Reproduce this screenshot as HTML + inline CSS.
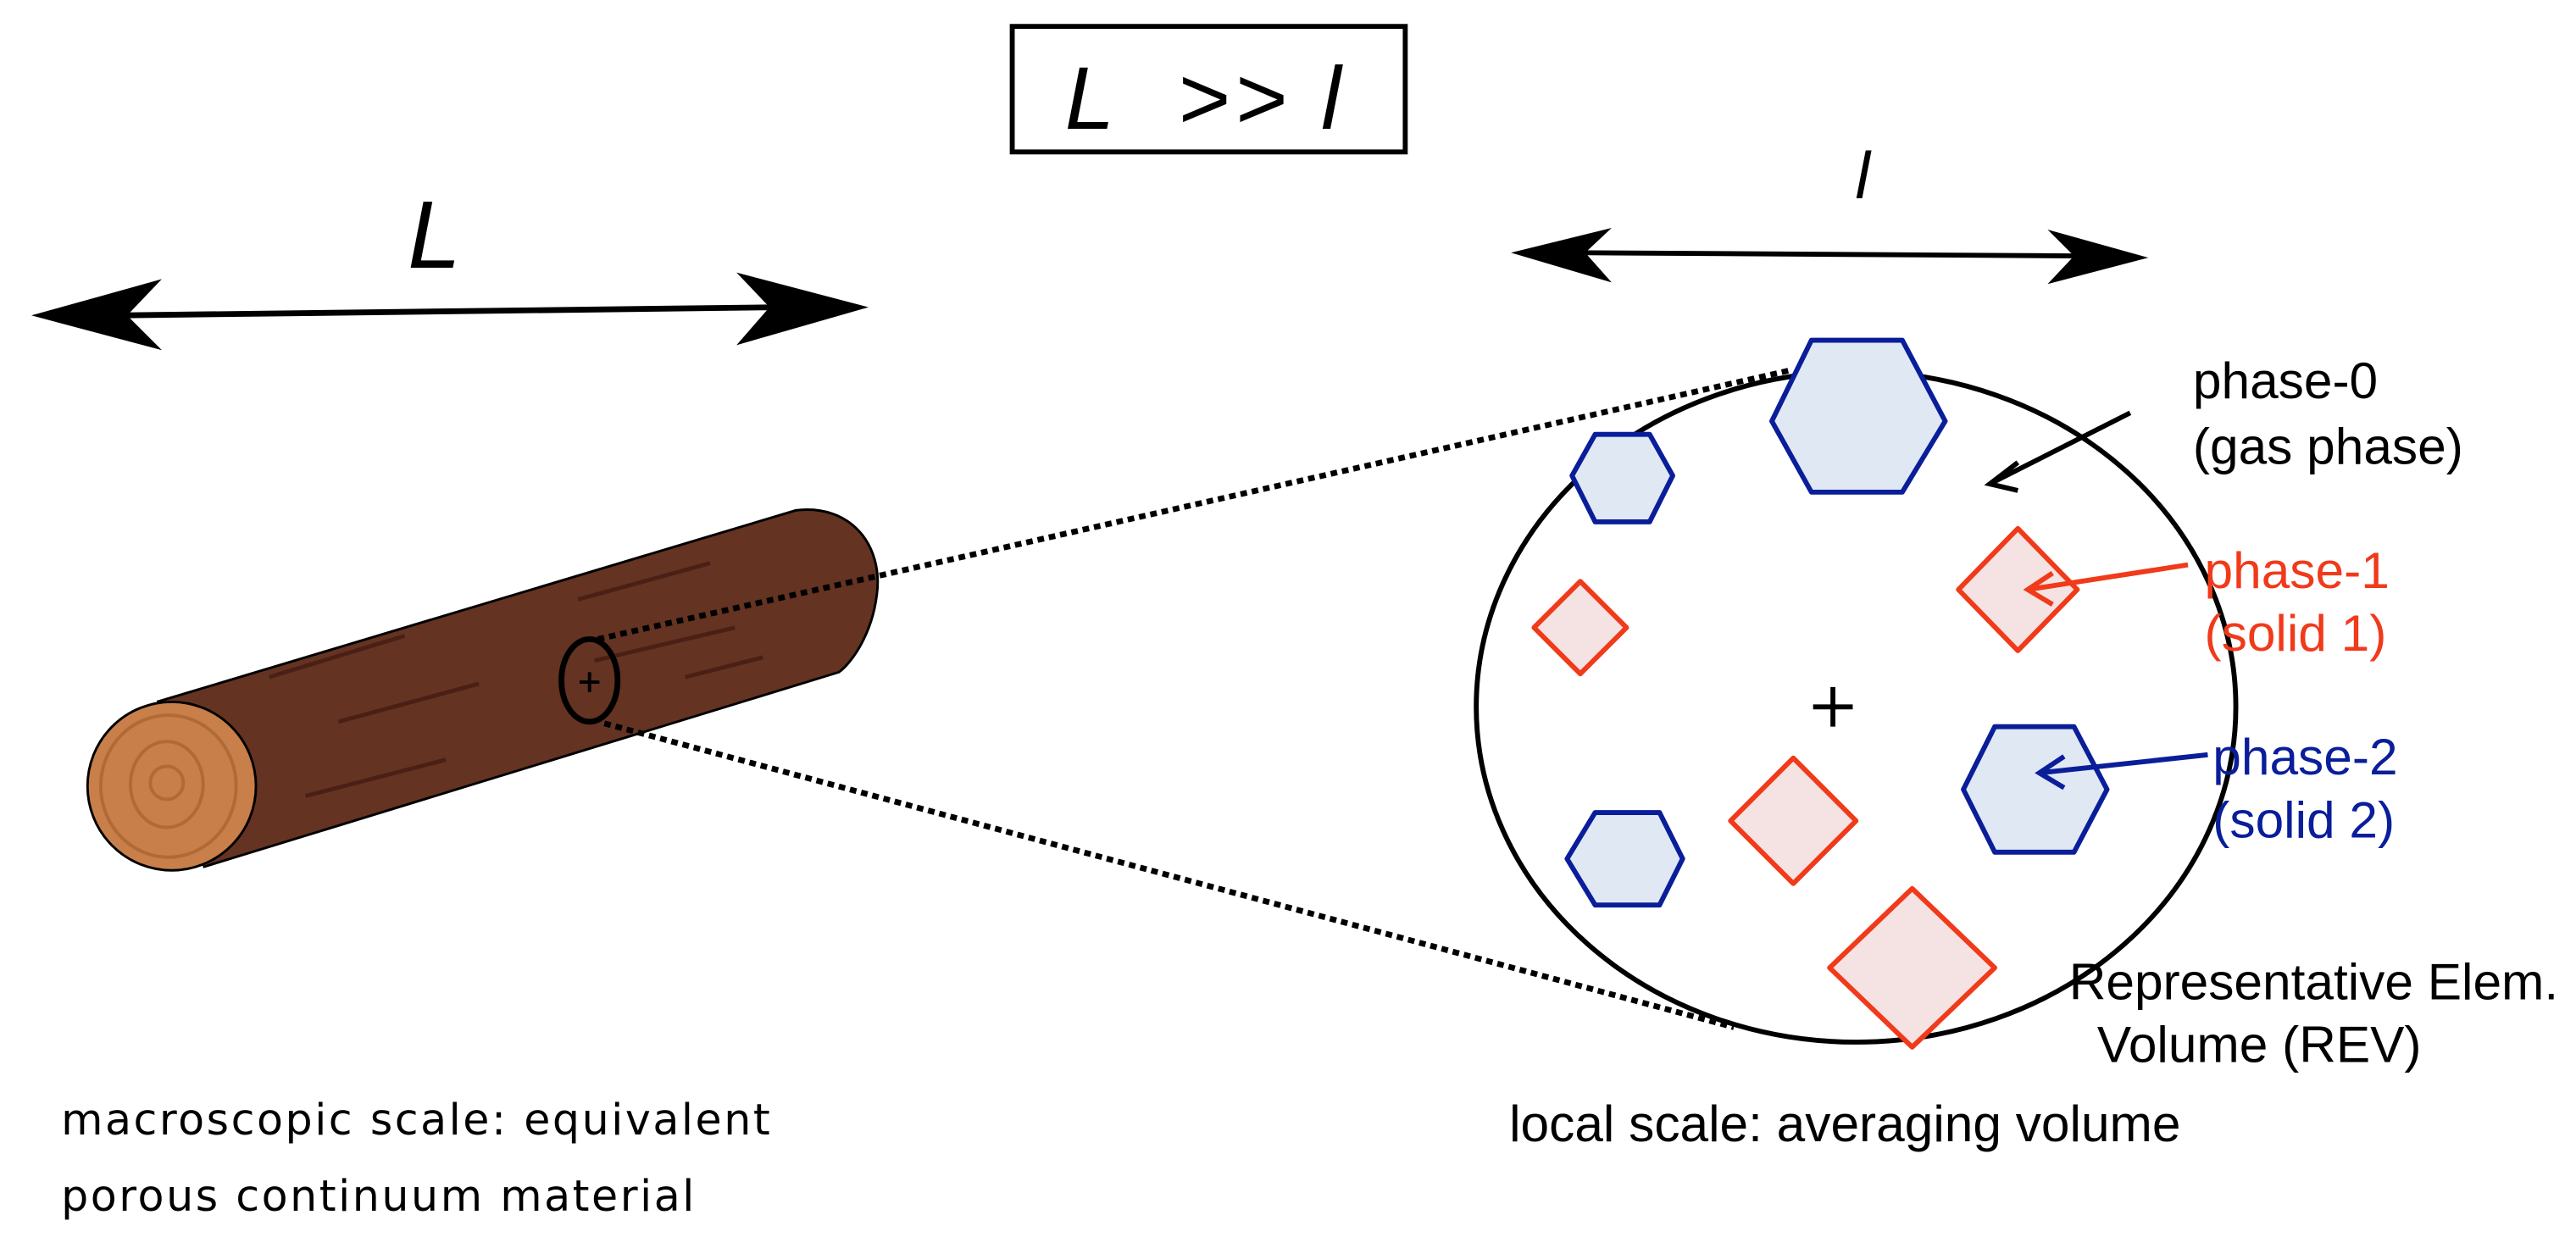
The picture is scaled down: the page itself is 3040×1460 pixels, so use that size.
<!DOCTYPE html>
<html><head><meta charset="utf-8"><style>
html,body{margin:0;padding:0;background:#fff;}
svg{display:block;}
</style></head><body>
<svg width="3040" height="1460" viewBox="0 0 1560 749" xmlns="http://www.w3.org/2000/svg" preserveAspectRatio="none">
<rect width="1560" height="749" fill="#fff"/>
<!-- L >> l box -->
<rect x="613" y="16" width="238" height="76" fill="#fff" stroke="#000" stroke-width="3"/>
<text x="730" y="78" text-anchor="middle" font-family="Liberation Sans, sans-serif" font-style="italic" font-size="54" letter-spacing="3" xml:space="preserve">L  &gt;&gt; l</text>
<!-- L arrow -->
<text x="263" y="162" text-anchor="middle" font-family="Liberation Sans, sans-serif" font-style="italic" font-size="58">L</text>
<line x1="70" y1="191" x2="475" y2="186" stroke="#000" stroke-width="3.5"/>
<polygon points="19,191 98,169 77,191 98,212" fill="#000"/>
<polygon points="526,186 446,165 466,186 446,209" fill="#000"/>
<!-- l arrow -->
<text x="1128" y="120" text-anchor="middle" font-family="Liberation Sans, sans-serif" font-style="italic" font-size="40">l</text>
<line x1="955" y1="153" x2="1262" y2="155" stroke="#000" stroke-width="3"/>
<polygon points="915,153 976,138 960,153 976,171" fill="#000"/>
<polygon points="1301,156 1240,139 1256,155 1240,172" fill="#000"/>
<!-- log -->
<path d="M95,425 L482,309 C515,305 535,330 531,360 C528,385 515,402 508,407 L123,525 Z" fill="#643322"/>
<path d="M95,425 L482,309 C515,305 535,330 531,360 C528,385 515,402 508,407 L123,525" fill="none" stroke="#000" stroke-width="1.5"/>
<g stroke="#4a2016" stroke-width="2.5">
<line x1="163" y1="410" x2="245" y2="385"/>
<line x1="205" y1="437" x2="290" y2="414"/>
<line x1="185" y1="482" x2="270" y2="460"/>
<line x1="350" y1="363" x2="430" y2="341"/>
<line x1="360" y1="400" x2="445" y2="380"/>
<line x1="415" y1="410" x2="462" y2="398"/>
</g>
<ellipse cx="104" cy="476" rx="51" ry="51" fill="#c87f4a" stroke="#000" stroke-width="1.5"/>
<g fill="none" stroke="#b06a35" stroke-width="2">
<ellipse cx="102" cy="476" rx="41" ry="43"/>
<ellipse cx="101" cy="475" rx="22" ry="26"/>
<ellipse cx="101" cy="474" rx="10" ry="10"/>
</g>
<!-- dotted lines -->
<line x1="362" y1="387" x2="1085" y2="224" stroke="#000" stroke-width="3.5" stroke-dasharray="4 3"/>
<line x1="366" y1="438" x2="1050" y2="622" stroke="#000" stroke-width="3.5" stroke-dasharray="4 3"/>
<ellipse cx="357" cy="412" rx="17" ry="25" fill="none" stroke="#000" stroke-width="3.5"/>
<path d="M351,413 H363 M357,407 V419" stroke="#000" stroke-width="2"/>
<!-- REV circle -->
<ellipse cx="1124" cy="428" rx="230" ry="203" fill="#fff" stroke="#000" stroke-width="3"/>
<g fill="#e0e8f3" stroke="#0a1e9a" stroke-width="3" stroke-linejoin="round">
<polygon points="1073,255 1097,206 1152,206 1178,255 1152,298 1097,298"/>
<polygon points="952,288 966,263 999,263 1013,288 999,316 966,316"/>
<polygon points="1189,478 1208,440 1256,440 1276,478 1256,516 1208,516"/>
<polygon points="949,520 966,492 1005,492 1019,520 1005,548 966,548"/>
</g>
<g fill="#f5e2e2" stroke="#f03a1a" stroke-width="3" stroke-linejoin="round">
<polygon points="957,352 985,380 957,408 929,380"/>
<polygon points="1222,320 1258,357 1222,394 1186,357"/>
<polygon points="1086,459 1124,497 1086,535 1048,497"/>
<polygon points="1158,538 1208,586 1158,634 1108,586"/>
</g>
<path d="M1098,428 H1122 M1110,416 V440" stroke="#000" stroke-width="3"/>
<!-- pointer arrows -->
<g fill="none" stroke-width="3">
<path d="M1290,250 L1205,293 M1222,280 L1205,293 L1222,297" stroke="#000"/>
<path d="M1325,342 L1228,357 M1243,347 L1228,357 L1243,366" stroke="#f03a1a"/>
<path d="M1337,457 L1235,468 M1250,458 L1235,468 L1250,477" stroke="#0a1e9a"/>
</g>
<!-- labels -->
<g font-family="Liberation Sans, sans-serif" font-size="31">
<text x="1328" y="241">phase-0</text>
<text x="1328" y="281">(gas phase)</text>
<text x="1335" y="356" fill="#f03a1a">phase-1</text>
<text x="1335" y="394" fill="#f03a1a">(solid 1)</text>
<text x="1340" y="469" fill="#0a1e9a">phase-2</text>
<text x="1340" y="507" fill="#0a1e9a">(solid 2)</text>
<text x="1253" y="605">Representative Elem.</text>
<text x="1270" y="643">Volume (REV)</text>
<text x="914" y="691">local scale: averaging volume</text>
</g>
<g font-family="DejaVu Sans, sans-serif" font-size="26" letter-spacing="1.3">
<text x="37" y="687">macroscopic scale: equivalent</text>
<text x="37" y="733">porous continuum material</text>
</g>
</svg>
</body></html>
